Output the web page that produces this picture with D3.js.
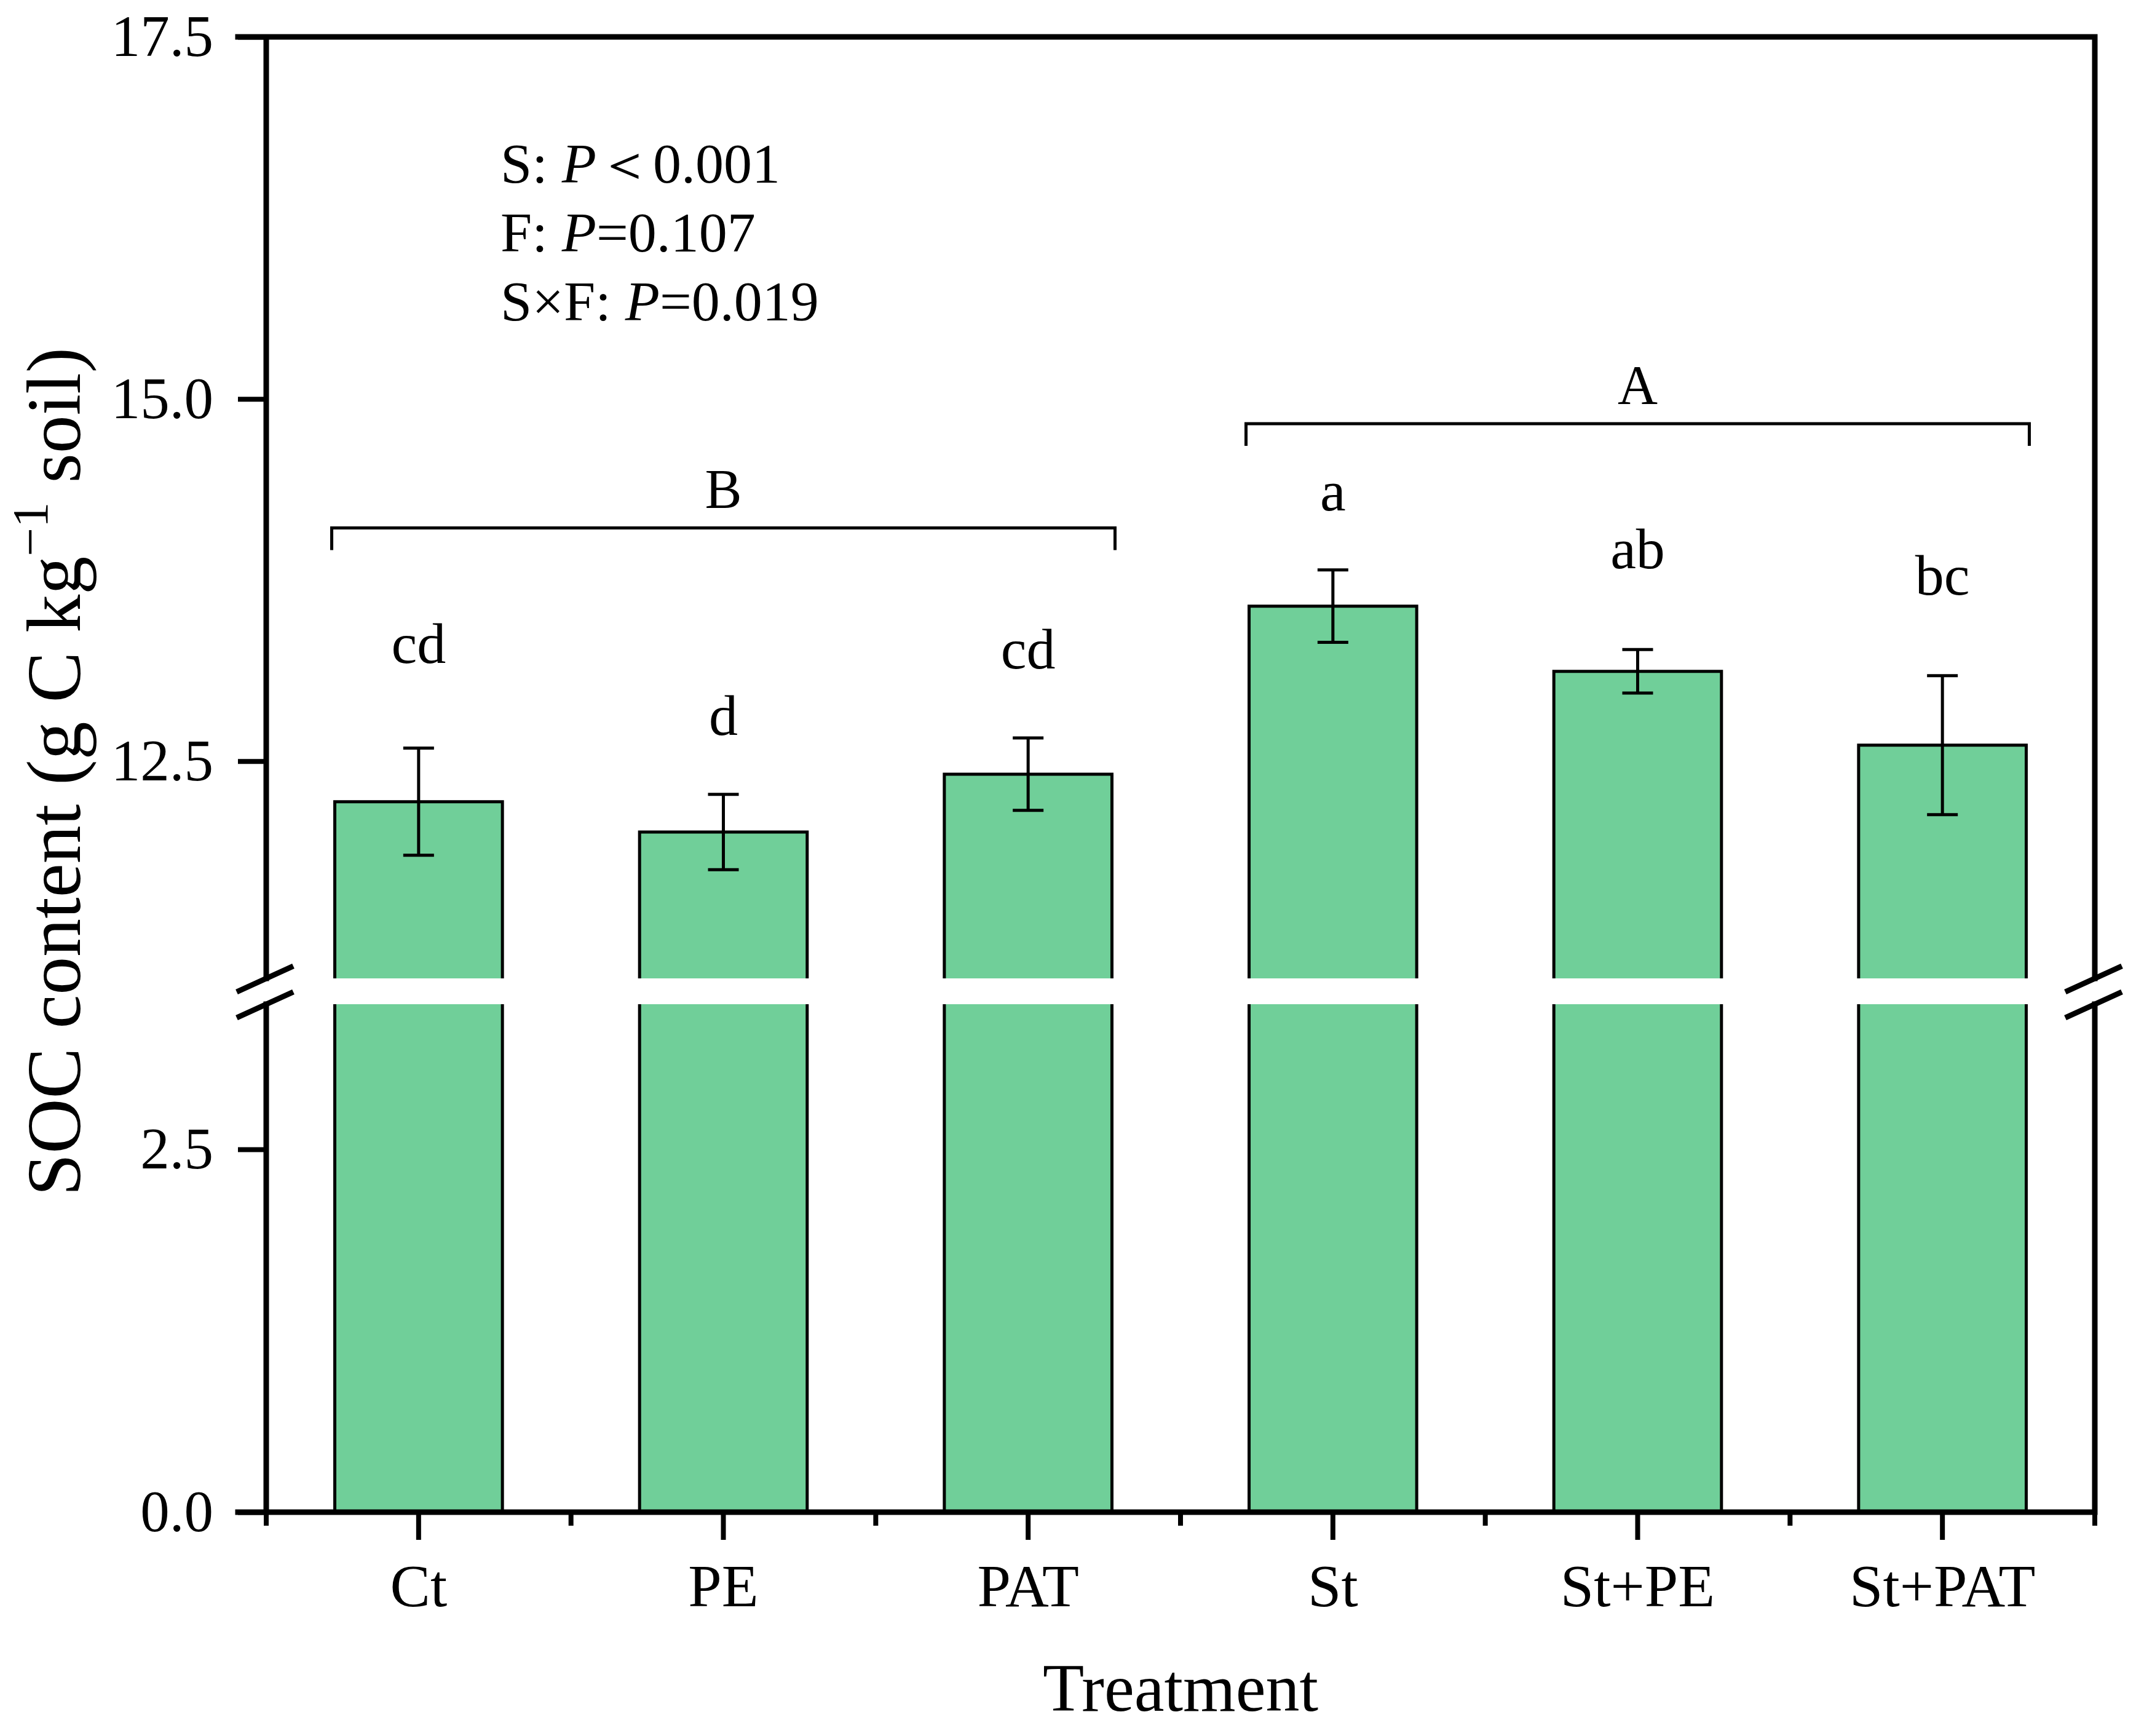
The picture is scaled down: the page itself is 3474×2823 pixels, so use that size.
<!DOCTYPE html>
<html>
<head>
<meta charset="utf-8">
<script src="https://cdn.jsdelivr.net/npm/d3@7"></script>
<style>
  body { margin: 0; background: #fff; }
  text { font-family: "Liberation Serif", "Times New Roman", serif; fill: #000; }
</style>
</head>
<body>
<script>
// SOC content by treatment, broken y axis (0-3.5 and 11-17.5)

// data
var treatments = ["Ct", "PE", "PAT", "St", "St+PE", "St+PAT"];
var socMean = [12.22, 12.01, 12.41, 13.57, 13.12, 12.61];
var socErr = [0.37, 0.26, 0.25, 0.25, 0.15, 0.48];
var letters = ["cd", "d", "cd", "a", "ab", "bc"];
var letterLevel = [13.18, 12.68, 13.14, 14.23, 13.83, 13.65];

var lowTicks = [0, 2.5];
var highTicks = [12.5, 15, 17.5];

var groupLabels = ["B", "A"];
var groupFrom = ["Ct", "St"];
var groupTo = ["PAT", "St+PAT"];
var groupLevel = [14.11, 14.83];

var statNames = ["S: ", "F: ", "S\u00d7F: "];
var statValues = ["\uff1c0.001", "=0.107", "=0.019"];

/* svg size and plot frame */
var w = 3474, h = 2823;
var plotL = 433, plotR = 3407, plotT = 60, plotB = 2459;
var breakTop = 1591, breakBot = 1633;

window.onload = function(){

    var svg = d3.select("body")
        .append("svg")
        .attr("width", w)
        .attr("height", h)
        .style("background-color", "#fff");

    var x = d3.scaleBand()
        .domain(treatments)
        .range([plotL, plotR])
        .paddingInner(0.45)
        .paddingOuter(0.225);

    // two linear pieces for the broken axis
    var yLow = d3.scaleLinear().domain([0, 3.5]).range([plotB, breakBot]);
    var yHigh = d3.scaleLinear().domain([11, 17.5]).range([breakTop, plotT]);

    var bw = x.bandwidth();
    var rows = treatments.map(function(t, i){
        return {name: t, mean: socMean[i], err: socErr[i], letter: letters[i], lev: letterLevel[i]};
    });

    //bars: upper and lower pieces, fill first then outline
    var bars = svg.selectAll(".bar")
        .data(rows)
        .enter()
        .append("g")
        .attr("class", "bar");

    bars.append("rect")
        .attr("x", function(d){ return x(d.name); })
        .attr("y", function(d){ return yHigh(d.mean); })
        .attr("width", bw)
        .attr("height", function(d){ return breakTop - yHigh(d.mean); })
        .style("fill", "#70cf99");

    bars.append("rect")
        .attr("x", function(d){ return x(d.name); })
        .attr("y", yLow(3.5))
        .attr("width", bw)
        .attr("height", yLow(0) - yLow(3.5))
        .style("fill", "#70cf99");

    bars.append("path")
        .attr("d", function(d){
            var x0 = x(d.name), x1 = x0 + bw;
            return "M" + x0 + "," + breakTop + "V" + yHigh(d.mean) + "H" + x1 + "V" + breakTop +
                   "M" + x0 + "," + yLow(3.5) + "V" + yLow(0) + "M" + x1 + "," + yLow(3.5) + "V" + yLow(0);
        })
        .style("fill", "none")
        .style("stroke", "#000")
        .style("stroke-width", 5);

    //error bars
    svg.selectAll(".err")
        .data(rows)
        .enter()
        .append("path")
        .attr("class", "err")
        .attr("d", function(d){
            var cx = x(d.name) + bw / 2;
            var t = yHigh(d.mean + d.err), b = yHigh(d.mean - d.err);
            return "M" + cx + "," + t + "V" + b +
                   "M" + (cx - 25) + "," + t + "H" + (cx + 25) +
                   "M" + (cx - 25) + "," + b + "H" + (cx + 25);
        })
        .style("fill", "none")
        .style("stroke", "#000")
        .style("stroke-width", 5);

    //significance letters
    svg.selectAll(".letter")
        .data(rows)
        .enter()
        .append("text")
        .attr("class", "letter")
        .attr("text-anchor", "middle")
        .attr("x", function(d){ return x(d.name) + bw / 2; })
        .attr("y", function(d){ return yHigh(d.lev); })
        .style("font-size", "94px")
        .text(function(d){ return d.letter; });

    //group brackets
    var groups = groupLabels.map(function(g, i){
        return {label: g, from: groupFrom[i], to: groupTo[i], lev: groupLevel[i]};
    });
    svg.selectAll(".bracket")
        .data(groups)
        .enter()
        .append("path")
        .attr("class", "bracket")
        .attr("d", function(d){
            var y0 = yHigh(d.lev);
            return "M" + (x(d.from) - 5) + "," + (y0 + 36) + "V" + y0 +
                   "H" + (x(d.to) + bw + 5) + "V" + (y0 + 36);
        })
        .style("fill", "none")
        .style("stroke", "#000")
        .style("stroke-width", 5);

    svg.selectAll(".glabel")
        .data(groups)
        .enter()
        .append("text")
        .attr("class", "glabel")
        .attr("text-anchor", "middle")
        .attr("x", function(d){ return (x(d.from) + x(d.to) + bw) / 2; })
        .attr("y", function(d){ return yHigh(d.lev) - 32; })
        .style("font-size", "90px")
        .text(function(d){ return d.label; });

    //y axes, one per piece
    var fmt = d3.format(".1f");
    var axHigh = svg.append("g")
        .attr("transform", "translate(" + plotL + ",0)")
        .call(d3.axisLeft(yHigh).tickValues(highTicks).tickSize(46).tickPadding(40).tickFormat(fmt));
    var axLow = svg.append("g")
        .attr("transform", "translate(" + plotL + ",0)")
        .call(d3.axisLeft(yLow).tickValues(lowTicks).tickSize(46).tickPadding(40).tickFormat(fmt));

    //x axis: major ticks at centres, minor ticks between
    var axX = svg.append("g")
        .attr("transform", "translate(0," + plotB + ")")
        .call(d3.axisBottom(x).tickSize(45));
    axX.selectAll("text")
        .attr("y", 153)
        .attr("dy", 0);

    var minor = d3.range(treatments.length + 1).map(function(i){ return plotL + i * x.step(); });
    svg.selectAll(".minor")
        .data(minor)
        .enter()
        .append("line")
        .attr("class", "minor")
        .attr("x1", function(d){ return d; })
        .attr("x2", function(d){ return d; })
        .attr("y1", plotB)
        .attr("y2", plotB + 22)
        .style("stroke", "#000")
        .style("stroke-width", 8);

    [axHigh, axLow, axX].forEach(function(a){
        a.select(".domain").remove();
        a.selectAll("line").style("stroke", "#000").style("stroke-width", 8);
        a.selectAll("text")
            .style("font-family", "'Liberation Serif', 'Times New Roman', serif")
            .style("fill", "#000");
    });
    axHigh.selectAll("text").style("font-size", "95px");
    axLow.selectAll("text").style("font-size", "95px");
    axX.selectAll("text").style("font-size", "98px");

    //frame with breaks
    var frame = "M" + (plotL - 46) + "," + plotT + "H" + plotR +
                "M" + plotL + "," + plotT + "V" + breakTop +
                "M" + plotL + "," + breakBot + "V" + plotB +
                "M" + plotR + "," + plotT + "V" + breakTop +
                "M" + plotR + "," + breakBot + "V" + plotB +
                "M" + (plotL - 46) + "," + plotB + "H" + plotR;
    svg.append("path")
        .attr("d", frame)
        .style("fill", "none")
        .style("stroke", "#000")
        .style("stroke-width", 9)
        .style("stroke-linecap", "square");

    //break slashes on both sides
    [plotL, plotR].forEach(function(ax){
        [breakTop, breakBot].forEach(function(by){
            svg.append("line")
                .attr("x1", ax - 48).attr("y1", by + 22)
                .attr("x2", ax + 44).attr("y2", by - 20)
                .style("stroke", "#000")
                .style("stroke-width", 9);
        });
    });

    //ANOVA results
    var stats = svg.selectAll(".stat")
        .data(statNames)
        .enter()
        .append("text")
        .attr("class", "stat")
        .attr("x", 814)
        .attr("y", function(d, i){ return 297 + i * 112; })
        .style("font-size", "92px");
    stats.append("tspan").text(function(d){ return d; });
    stats.append("tspan").style("font-style", "italic").text("P");
    stats.append("tspan").text(function(d, i){ return statValues[i]; });

    //axis titles
    svg.append("text")
        .attr("text-anchor", "middle")
        .attr("x", (plotL + plotR) / 2)
        .attr("y", 2782)
        .style("font-size", "110px")
        .text("Treatment");

    var yt = svg.append("text")
        .attr("text-anchor", "middle")
        .attr("transform", "translate(130,1255) rotate(-90)")
        .style("font-size", "124px");
    yt.append("tspan").text("SOC content (g C kg");
    yt.append("tspan").attr("dy", -53).style("font-size", "83px").text("\u22121");
    yt.append("tspan").attr("dy", 53).text(" soil)");
};
</script>
</body>
</html>
